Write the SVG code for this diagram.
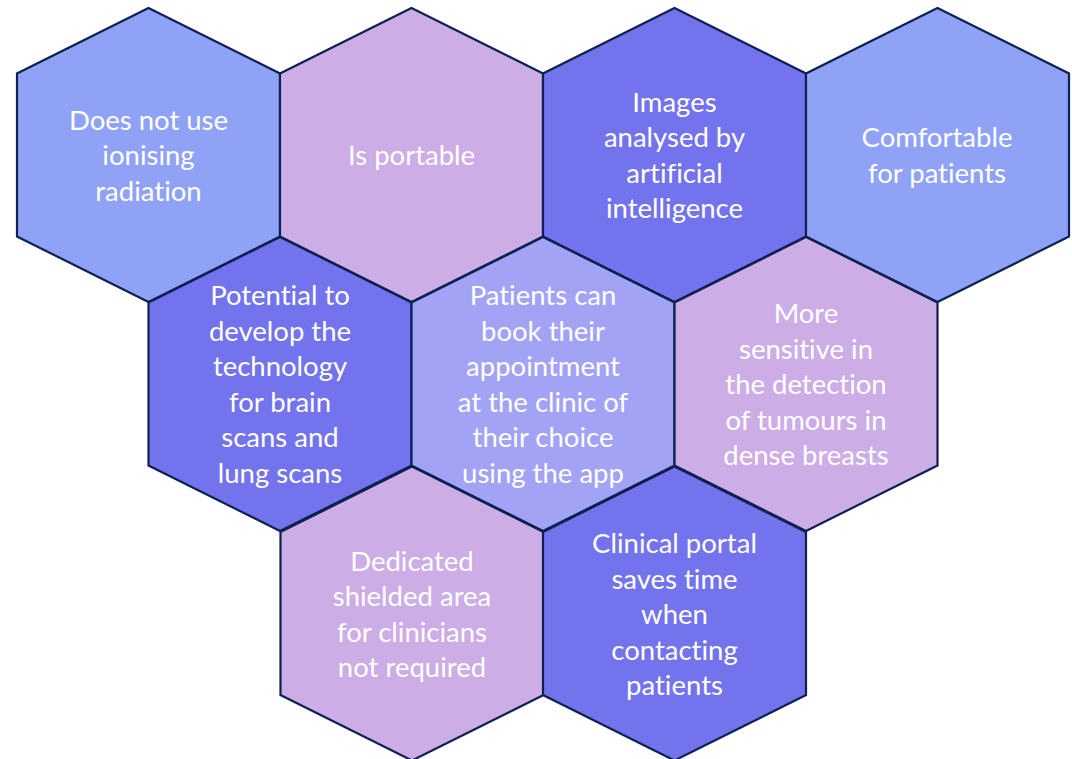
<svg xmlns="http://www.w3.org/2000/svg" xmlns:xlink="http://www.w3.org/1999/xlink" width="1072" height="759" viewBox="0 0 1072 759">
<style>
.hex{stroke:#0D2152;stroke-width:2.2;stroke-linejoin:miter}
.lb{fill:#8FA2F5}
.li{fill:#CDADE6}
.dk{fill:#7373ED}
.md{fill:#A3A3F5}
.t{font-family:Lato,"Liberation Sans",sans-serif;font-size:27.5px;fill:#FFFFFF;text-anchor:middle;font-variant-ligatures:none;font-feature-settings:"liga" 0,"clig" 0}
</style>
<defs>
<polygon id="hx" points="0,-147 131.5,-81.5 131.5,81.5 0,147 -131.5,81.5 -131.5,-81.5"/>
</defs>
<rect width="1072" height="759" fill="#FFFFFF"/>
<g id="n1">
<use xlink:href="#hx" href="#hx" x="148.5" y="155" class="hex lb"/>
<text class="t"><tspan x="148.5" y="129.5">Does not use</tspan><tspan x="148.5" y="165">ionising</tspan><tspan x="148.5" y="200.5">radiation</tspan></text>
</g>
<g id="n2">
<use xlink:href="#hx" href="#hx" x="411.5" y="155" class="hex li"/>
<text class="t"><tspan x="411.5" y="165">Is portable</tspan></text>
</g>
<g id="n3">
<use xlink:href="#hx" href="#hx" x="674.5" y="155" class="hex dk"/>
<text class="t"><tspan x="674.5" y="111.75">Images</tspan><tspan x="674.5" y="147.25">analysed by</tspan><tspan x="674.5" y="182.75">artificial</tspan><tspan x="674.5" y="218.25">intelligence</tspan></text>
</g>
<g id="n4">
<use xlink:href="#hx" href="#hx" x="937.5" y="155" class="hex lb"/>
<text class="t"><tspan x="937" y="147.25">Comfortable</tspan><tspan x="937" y="182.75">for patients</tspan></text>
</g>
<g id="n5">
<use xlink:href="#hx" href="#hx" x="280" y="384" class="hex dk"/>
<text class="t"><tspan x="280" y="305.25">Potential to</tspan><tspan x="280" y="340.75">develop the</tspan><tspan x="280" y="376.25">technology</tspan><tspan x="280" y="411.75">for brain</tspan><tspan x="280" y="447.25">scans and</tspan><tspan x="280" y="482.75">lung scans</tspan></text>
</g>
<g id="n6">
<use xlink:href="#hx" href="#hx" x="543" y="384" class="hex md"/>
<text class="t"><tspan x="543" y="305.25">Patients can</tspan><tspan x="543" y="340.75">book their</tspan><tspan x="543" y="376.25">appointment</tspan><tspan x="543" y="411.75">at the clinic of</tspan><tspan x="543" y="447.25">their choice</tspan><tspan x="543" y="482.75">using the app</tspan></text>
</g>
<g id="n7">
<use xlink:href="#hx" href="#hx" x="806" y="384" class="hex li"/>
<text class="t"><tspan x="806" y="323">More</tspan><tspan x="806" y="358.5">sensitive in</tspan><tspan x="806" y="394">the detection</tspan><tspan x="806" y="429.5">of tumours in</tspan><tspan x="806" y="465">dense breasts</tspan></text>
</g>
<g id="n8">
<use xlink:href="#hx" href="#hx" x="412" y="613.5" class="hex li"/>
<text class="t"><tspan x="412" y="570.75">Dedicated</tspan><tspan x="412" y="606.25">shielded area</tspan><tspan x="412" y="641.75">for clinicians</tspan><tspan x="412" y="677.25">not required</tspan></text>
</g>
<g id="n9">
<use xlink:href="#hx" href="#hx" x="674.5" y="613.5" class="hex dk"/>
<text class="t"><tspan x="674.5" y="553">Clinical portal</tspan><tspan x="674.5" y="588.5">saves time</tspan><tspan x="674.5" y="624">when</tspan><tspan x="674.5" y="659.5">contacting</tspan><tspan x="674.5" y="695">patients</tspan></text>
</g>
<g id="connectors"></g>
</svg>
